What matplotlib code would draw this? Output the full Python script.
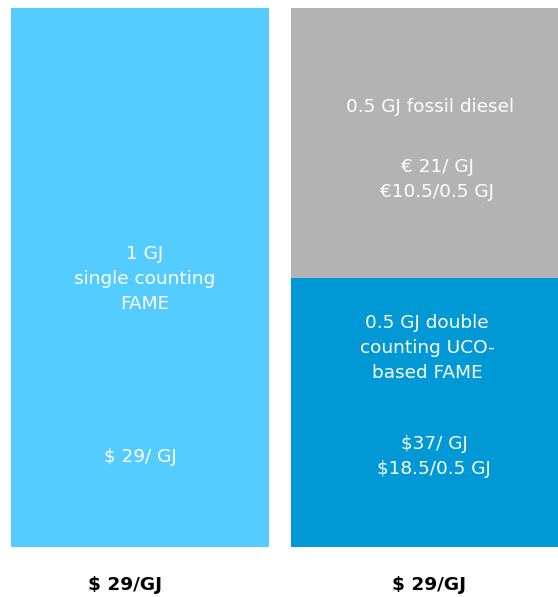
import matplotlib
matplotlib.use("Agg")
import matplotlib.pyplot as plt

# energy content (GJ) of each fuel component
components = ["single counting FAME", "fossil diesel", "double counting UCO-based FAME"]
stack = [0, 1, 1]           # which bar each component sits in
energy_gj = [1.0, 0.5, 0.5]
base_gj = [0.0, 0.5, 0.0]
colors = ["#55CCFF", "#B3B3B3", "#0099D6"]

name_labels = ["1 GJ\nsingle counting\nFAME",
               "0.5 GJ fossil diesel",
               "0.5 GJ double\ncounting UCO-\nbased FAME"]
price_labels = [r"\$ 29/ GJ",
                "€ 21/ GJ\n€10.5/0.5 GJ",
                r"\$37/ GJ" + "\n" + r"\$18.5/0.5 GJ"]
total_labels = [r"\$ 29/GJ", r"\$ 29/GJ"]

W, H = 558, 597
fig = plt.figure(figsize=(W / 100, H / 100), dpi=100)
ax = fig.add_axes([0, 50 / H, 1, 539 / H])
ax.set_xlim(-140 / 284.5, (W - 140) / 284.5)
ax.set_ylim(0, 1)
ax.axis("off")

widths = [0.907, 0.94, 0.94]
for i in range(len(components)):
    ax.bar(stack[i], energy_gj[i], bottom=base_gj[i], width=widths[i],
           color=colors[i], edgecolor="none")

txt = dict(color="white", ha="center", va="center", fontsize=13.3,
           family="DejaVu Sans", linespacing=1.5)
# component names
ax.text(0.015, 0.497, name_labels[0], **txt)
ax.text(1.019, 0.816, name_labels[1], **txt)
ax.text(1.009, 0.369, name_labels[2], **txt)
# prices
ax.text(0.0, 0.167, price_labels[0], **txt)
ax.text(1.045, 0.681, price_labels[1], **txt)
ax.text(1.034, 0.167, price_labels[2], **txt)

for i, lab in enumerate(total_labels):
    ax.text([-0.053, 1.016][i], -0.0705, lab, color="black", ha="center",
            va="center", fontsize=13.3, fontweight="bold", family="DejaVu Sans",
            clip_on=False)

fig.savefig("out.png", dpi=100)
